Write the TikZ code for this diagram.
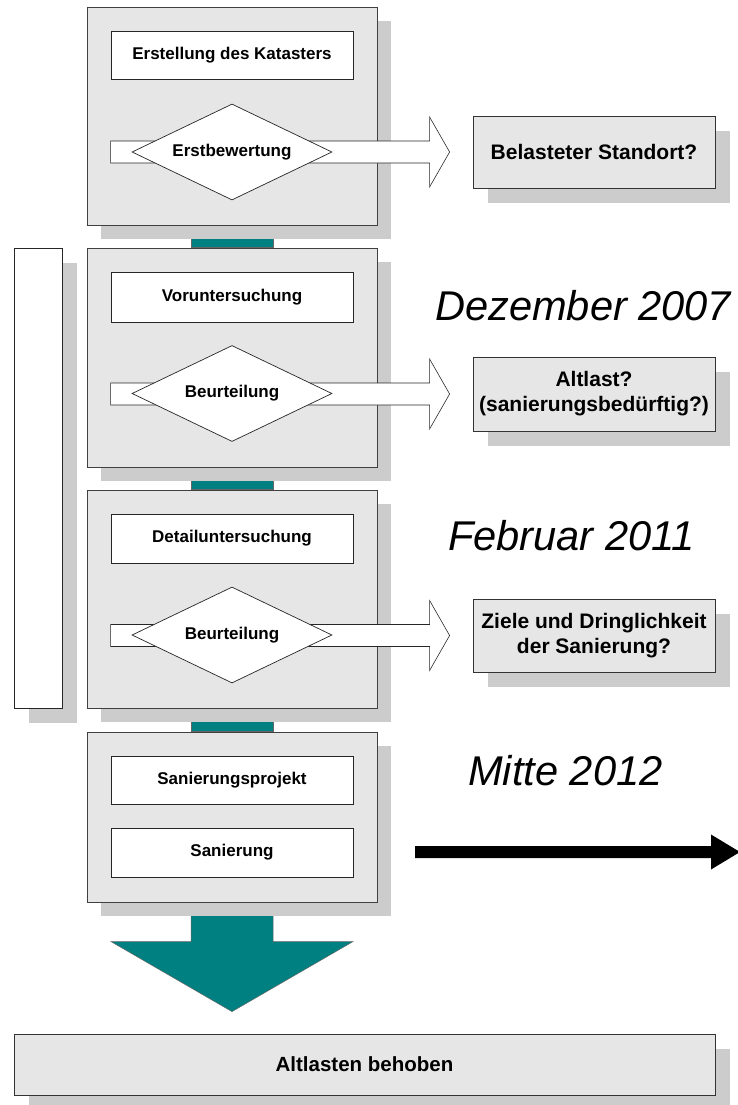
\documentclass[tikz,border=0pt]{standalone}
\usepackage{fontspec}
\setmainfont{Liberation Sans}
\usetikzlibrary{calc,shadows,shapes.geometric,backgrounds}
\definecolor{panel}{HTML}{E6E6E6}
\definecolor{shadowgray}{HTML}{CCCCCC}
\definecolor{tealc}{HTML}{008080}

\begin{document}
\begin{tikzpicture}[x=1pt,y=-1pt,
  stage/.style={draw=black!75, line width=0.8pt, fill=panel, inner sep=0pt,
    minimum width=290pt,
    general shadow={fill=shadowgray, shadow xshift=14pt, shadow yshift=-14pt}},
  task/.style={draw=black!85, line width=0.7pt, fill=white, inner sep=0pt,
    minimum width=242pt, font=\fontsize{17}{20}\selectfont\bfseries},
  decision/.style={diamond, aspect=2.08, draw=black!85, line width=0.7pt,
    fill=white, inner sep=0pt, minimum width=200pt, minimum height=96pt,
    font=\fontsize{17}{20}\selectfont\bfseries},
  result/.style={draw=black!80, line width=0.8pt, fill=panel, inner sep=0pt,
    minimum width=242pt, align=center,
    font=\fontsize{21}{25}\selectfont\bfseries,
    general shadow={fill=shadowgray, shadow xshift=15pt, shadow yshift=-15pt}},
  datelabel/.style={anchor=base west, inner sep=0pt,
    font=\fontsize{41.6}{48}\selectfont\itshape},
  hollowarrow/.style={draw=black!85, line width=0.6pt, fill=white},
  tealfill/.style={fill=tealc, draw=black!60, line width=0.5pt}
]
\useasboundingbox (0,0) rectangle (737,1105);

% phase panels
\node[stage, minimum height=218pt] (g1) at (232,116) {};
\node[stage, minimum height=219pt] (g2) at (232,357.5) {};
\node[stage, minimum height=218pt] (g3) at (232,599) {};
\node[stage, minimum height=170pt] (g4) at (232,817) {};

% side bar spanning the investigation phases
\node[draw=black!85, line width=0.7pt, fill=white, inner sep=0pt,
  minimum width=48pt, minimum height=460pt,
  general shadow={fill=shadowgray, shadow xshift=15pt, shadow yshift=-15pt}]
  (lb) at (38,478) {};

% final result
\node[result, minimum width=701pt, minimum height=61pt,
  font=\fontsize{20.5}{24}\selectfont\bfseries] (fin) at (364.5,1064.5) {Altlasten behoben};

% connectors between the panels and the final arrow, behind the shadows
\begin{pgfonlayer}{background}
  \filldraw[tealfill] let \p1=(g1.south), \p2=(g2.north) in
    (\x1-41pt,\y1) rectangle (\x1+41pt,\y2);
  \filldraw[tealfill] let \p1=(g2.south), \p2=(g3.north) in
    (\x1-41pt,\y1) rectangle (\x1+41pt,\y2);
  \filldraw[tealfill] let \p1=(g3.south), \p2=(g4.north) in
    (\x1-41pt,\y1) rectangle (\x1+41pt,\y2);
  \filldraw[tealfill] let \p1=(g4.south), \p2=(fin.north) in
    (\x1-41pt,\y1) -- (\x1-41pt,\y2+92pt) -- (\x1-121pt,\y2+92pt) --
    (\x1,\y2+22pt) -- (\x1+121pt,\y2+92pt) -- (\x1+41pt,\y2+92pt) --
    (\x1+41pt,\y1) -- cycle;
\end{pgfonlayer}

% tasks inside the panels
\node[task, minimum height=48pt] (k1) at (232,55) {Erstellung des Katasters};
\node[task, minimum height=50pt] (k2) at (232,297) {Voruntersuchung};
\node[task, minimum height=49pt] (k3) at (232,538.5) {Detailuntersuchung};
\node[task, minimum height=48pt] (k4a) at (232,780) {Sanierungsprojekt};
\node[task, minimum height=49pt] (k4b) at (232,852.5) {Sanierung};

% questions answered by each phase
\node[result, minimum height=72pt] (r1) at (594,152) {Belasteter Standort?};
\node[result, minimum height=74pt] (r2) at (594,394) {Altlast?\\(sanierungsbedürftig?)};
\node[result, minimum height=73pt] (r3) at (594,635.5) {Ziele und Dringlichkeit\\der Sanierung?};

% hollow block arrows from the decisions to the questions
\foreach \k/\r in {k1/r1, k2/r2, k3/r3}{
  \draw[hollowarrow] let \p1=(\k.west), \p2=(\r.west) in
    (\x1,\y2+11pt) -- (\x2-43pt,\y2+11pt) -- (\x2-43pt,\y2+35pt) --
    (\x2-23pt,\y2) -- (\x2-43pt,\y2-35pt) -- (\x2-43pt,\y2-11pt) --
    (\x1,\y2-11pt) -- cycle;
}

% decisions
\node[decision] (d1) at (232,152) {Erstbewertung};
\node[decision] (d2) at (232,393.5) {Beurteilung};
\node[decision] (d3) at (232,635) {Beurteilung};

% dates
\node[datelabel] (t1) at (435,320) {Dezember 2007};
\node[datelabel] (t2) at (448,550) {Februar 2011};
\node[datelabel] (t3) at (468,785) {Mitte 2012};

% time arrow
\coordinate (ba) at (415,852);
\coordinate (bb) at (740,852);
\fill[black] let \p1=(ba), \p2=(bb) in
  (\x1,\y1+6pt) -- (\x2-29pt,\y1+6pt) -- (\x2-29pt,\y1+17.5pt) --
  (\x2,\y1) -- (\x2-29pt,\y1-17.5pt) -- (\x2-29pt,\y1-6pt) --
  (\x1,\y1-6pt) -- cycle;
\end{tikzpicture}
\end{document}
